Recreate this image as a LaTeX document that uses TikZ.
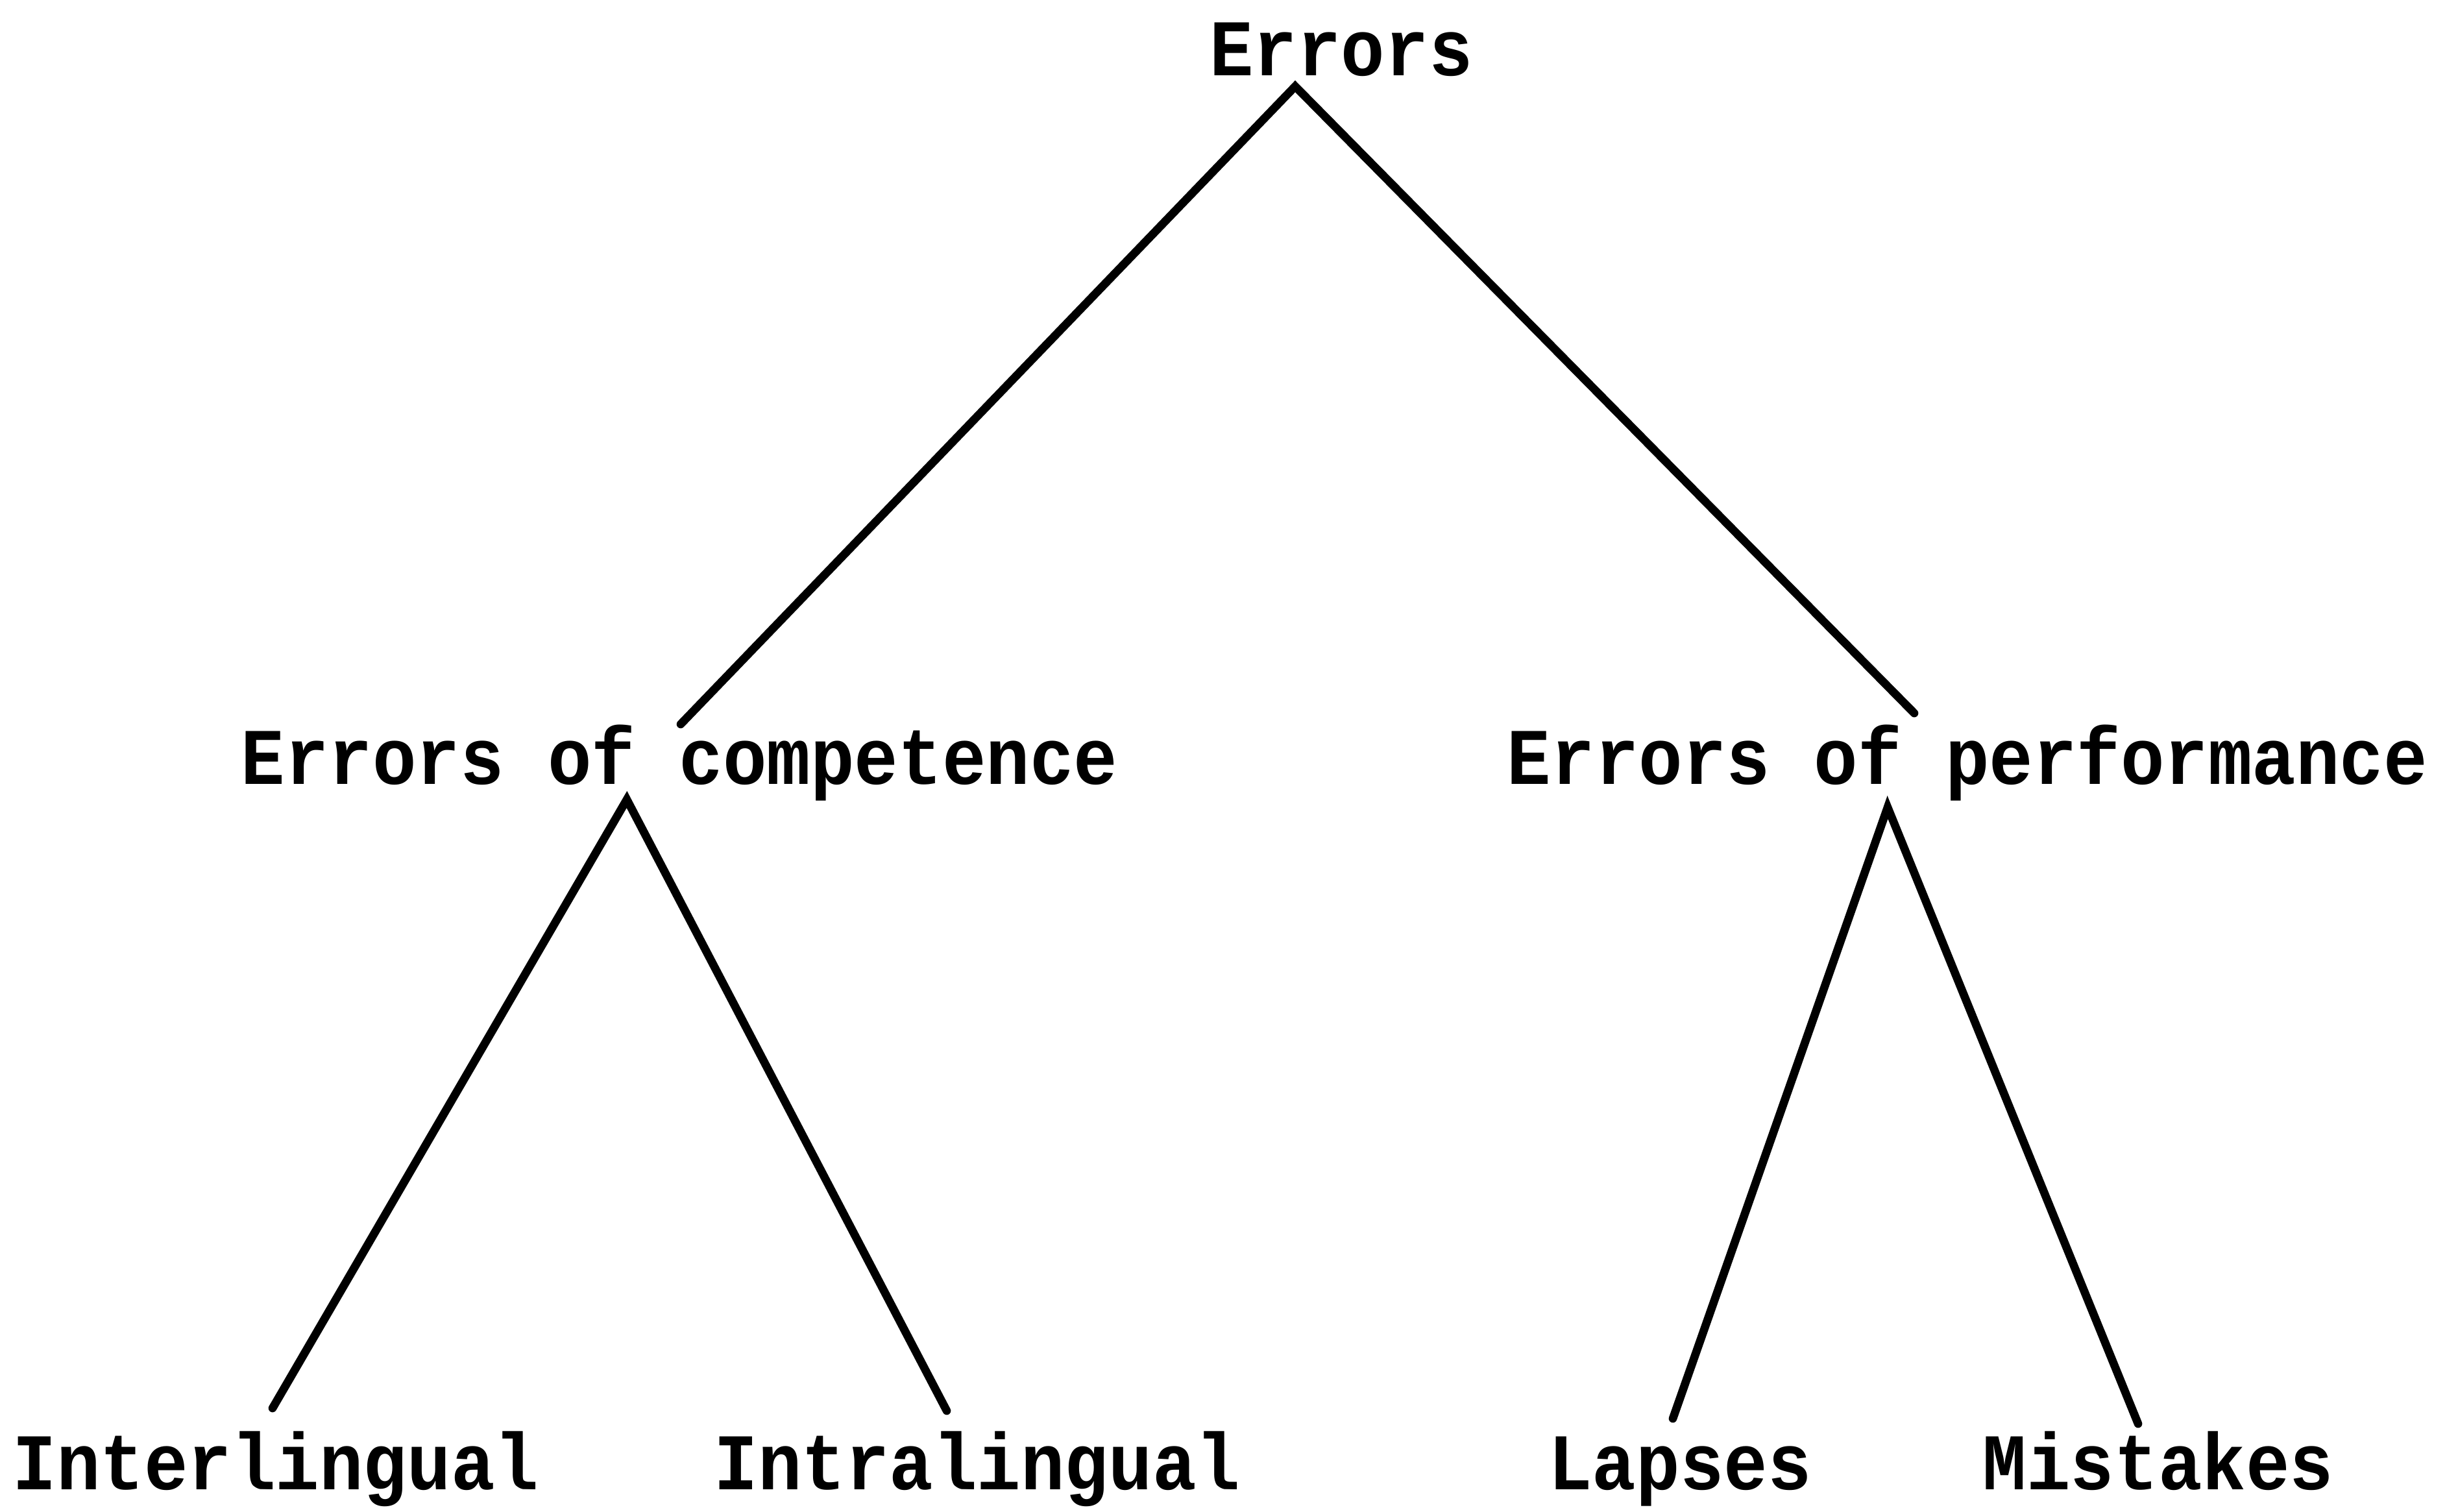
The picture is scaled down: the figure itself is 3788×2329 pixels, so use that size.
\documentclass[tikz,border=0pt]{standalone}
\usepackage{fontspec}
\setmonofont{Liberation Mono}
\begin{document}
\begin{tikzpicture}[x=0.01cm,y=-0.01cm,
  lbl/.style={font=\ttfamily\bfseries\fontsize{32}{36}\selectfont, anchor=base, inner sep=0pt, yscale=1.1},
  branch/.style={line width=3.6pt, line cap=round, line join=miter}]
\useasboundingbox (0,0) rectangle (3788,2329);
\node[lbl] (root) at (2067,116) {Errors};
\node[lbl] (comp) at (1047,1208) {Errors of competence};
\node[lbl] (perf) at (3032,1208) {Errors of performance};
\node[lbl] (inter) at (425,2295) {Interlingual};
\node[lbl] (intra) at (1506,2295) {Intralingual};
\node[lbl] (lapses) at (2589,2295) {Lapses};
\node[lbl] (mist) at (3326,2295) {Mistakes};
\coordinate (rootA) at (1996,133);
\coordinate (compT) at (1049,1116);
\coordinate (perfT) at (2950,1099);
\coordinate (compA) at (966,1232);
\coordinate (interT) at (420,2170);
\coordinate (intraT) at (1459,2174);
\coordinate (perfA) at (2909,1244);
\coordinate (lapsesT) at (2578,2186);
\coordinate (mistT) at (3295,2194);
\draw[branch] (compT) -- (rootA) -- (perfT);
\draw[branch] (interT) -- (compA) -- (intraT);
\draw[branch] (lapsesT) -- (perfA) -- (mistT);
\end{tikzpicture}
\end{document}
